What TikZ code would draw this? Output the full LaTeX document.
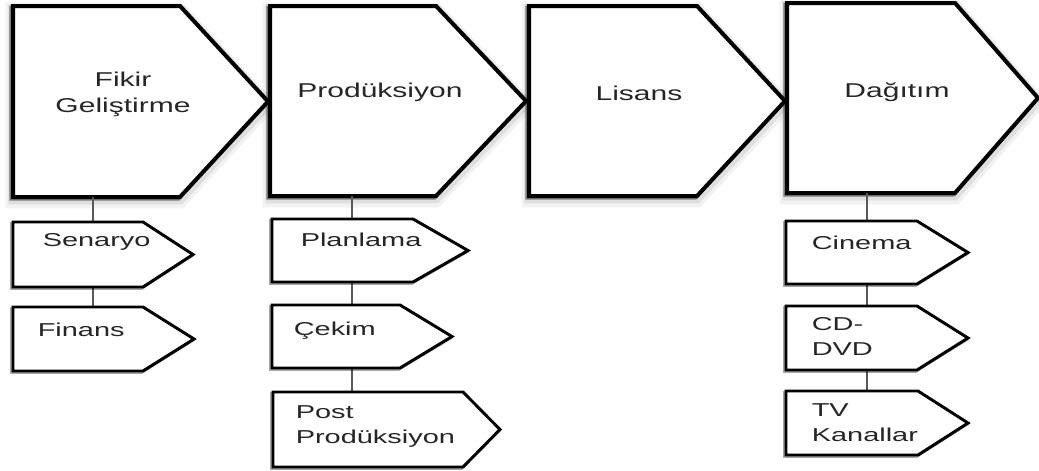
\documentclass[tikz,border=0pt]{standalone}
\usepackage{fontspec}
\setmainfont{Liberation Sans}
\usetikzlibrary{calc,fit}

\tikzset{every picture/.style={line width=0.75pt}}
\tikzset{
  haze/.style={preaction={draw=black,draw opacity=0.05,line width=11pt,transform canvas={yshift=-3pt}},
               preaction={draw=black,draw opacity=0.08,line width=7pt,transform canvas={yshift=-2pt}},
               preaction={draw=black,draw opacity=0.45,line width=3pt,transform canvas={shift={(-1.3pt,-1.3pt)}}}},
  smallhaze/.style={preaction={draw=black,draw opacity=0.35,line width=2.2pt,transform canvas={shift={(-1.1pt,-1.1pt)}}}},
  bigtag/.style={draw=black,fill=white,line width=3pt,haze},
  smalltag/.style={draw=black,fill=white,line width=2.2pt,smallhaze},
  area/.style={inner sep=0pt,outer sep=0pt},
  bigtxt/.style={font=\fontsize{15}{19.5}\selectfont,xscale=1.5,align=center,inner sep=0pt,anchor=north,text=black!85},
  smalltxt/.style={font=\fontsize{14}{19}\selectfont,xscale=1.55,align=left,inner sep=0pt,anchor=north west,text=black!85},
  conn/.style={draw=black!65,line width=1.5pt}
}
% pentagon arrow on the box of a node: style, node, tip length
\newcommand{\tagpath}[3]{\draw[#1] (#2.north west) -- (#2.north east) -- ($(#2.east)+(#3,0)$) -- (#2.south east) -- (#2.south west) -- cycle;}

\begin{document}
\begin{tikzpicture}[x=0.75pt,y=0.75pt,yscale=-1,xscale=1]
\useasboundingbox (0,0) rectangle (1039,471);

%Shape: main steps
\node[fit={(13,6) (180,197)},area] (fikir) {};
\node[fit={(270,6) (436,196)},area] (prod) {};
\node[fit={(529,6) (697,196)},area] (lisans) {};
\node[fit={(787,3) (955,193)},area] (dagitim) {};
\tagpath{bigtag}{fikir}{88}
\tagpath{bigtag}{prod}{90}
\tagpath{bigtag}{lisans}{88}
\tagpath{bigtag}{dagitim}{83}

%Shape: sub steps
\node[fit={(13,222) (143,287)},area] (senaryo) {};
\node[fit={(13,307) (143,371)},area] (finans) {};
\node[fit={(272,219) (413,282)},area] (planlama) {};
\node[fit={(272,305) (400,368)},area] (cekim) {};
\node[fit={(273,392) (463,467)},area] (post) {};
\node[fit={(786,221) (917,284)},area] (cinema) {};
\node[fit={(786,306) (917,370)},area] (cddvd) {};
\node[fit={(786,391) (918,455)},area] (tv) {};

%Straight Lines: columns
\coordinate (col1) at (93,0);
\coordinate (col2) at (352,0);
\coordinate (col4) at (867,0);
\draw[conn] (col1 |- fikir.south) -- (col1 |- senaryo.north);
\draw[conn] (col1 |- senaryo.south) -- (col1 |- finans.north);
\draw[conn] (col2 |- prod.south) -- (col2 |- planlama.north);
\draw[conn] (col2 |- planlama.south) -- (col2 |- cekim.north);
\draw[conn] (col2 |- cekim.south) -- (col2 |- post.north);
\draw[conn] (col4 |- dagitim.south) -- (col4 |- cinema.north);
\draw[conn] (col4 |- cinema.south) -- (col4 |- cddvd.north);
\draw[conn] (col4 |- cddvd.south) -- (col4 |- tv.north);

\tagpath{smalltag}{senaryo}{50}
\tagpath{smalltag}{finans}{51}
\tagpath{smalltag}{planlama}{55}
\tagpath{smalltag}{cekim}{52}
\tagpath{smalltag}{post}{37}
\tagpath{smalltag}{cinema}{51}
\tagpath{smalltag}{cddvd}{51}
\tagpath{smalltag}{tv}{50}

% Text Node
\node[bigtxt] (t-fikir) at (123,72) {Fikir\\Geliştirme};
\node[bigtxt] (t-prod) at (380,83) {Prodüksiyon};
\node[bigtxt] (t-lisans) at (639,86) {Lisans};
\node[bigtxt] (t-dagitim) at (897,82) {Dağıtım};
% Text Node
\node[smalltxt] (t-senaryo) at (42,233) {Senaryo};
\node[smalltxt] (t-finans) at (37,322) {Finans};
\node[smalltxt] (t-planlama) at (300,232) {Planlama};
\node[smalltxt] (t-cekim) at (293,321) {Çekim};
\node[smalltxt] (t-post) at (295,405) {Post\\Prodüksiyon};
\node[smalltxt] (t-cinema) at (811,235) {Cinema};
\node[smalltxt] (t-cddvd) at (811,317) {CD-\\DVD};
\node[smalltxt] (t-tv) at (811,403) {TV\\Kanallar};

\end{tikzpicture}
\end{document}
